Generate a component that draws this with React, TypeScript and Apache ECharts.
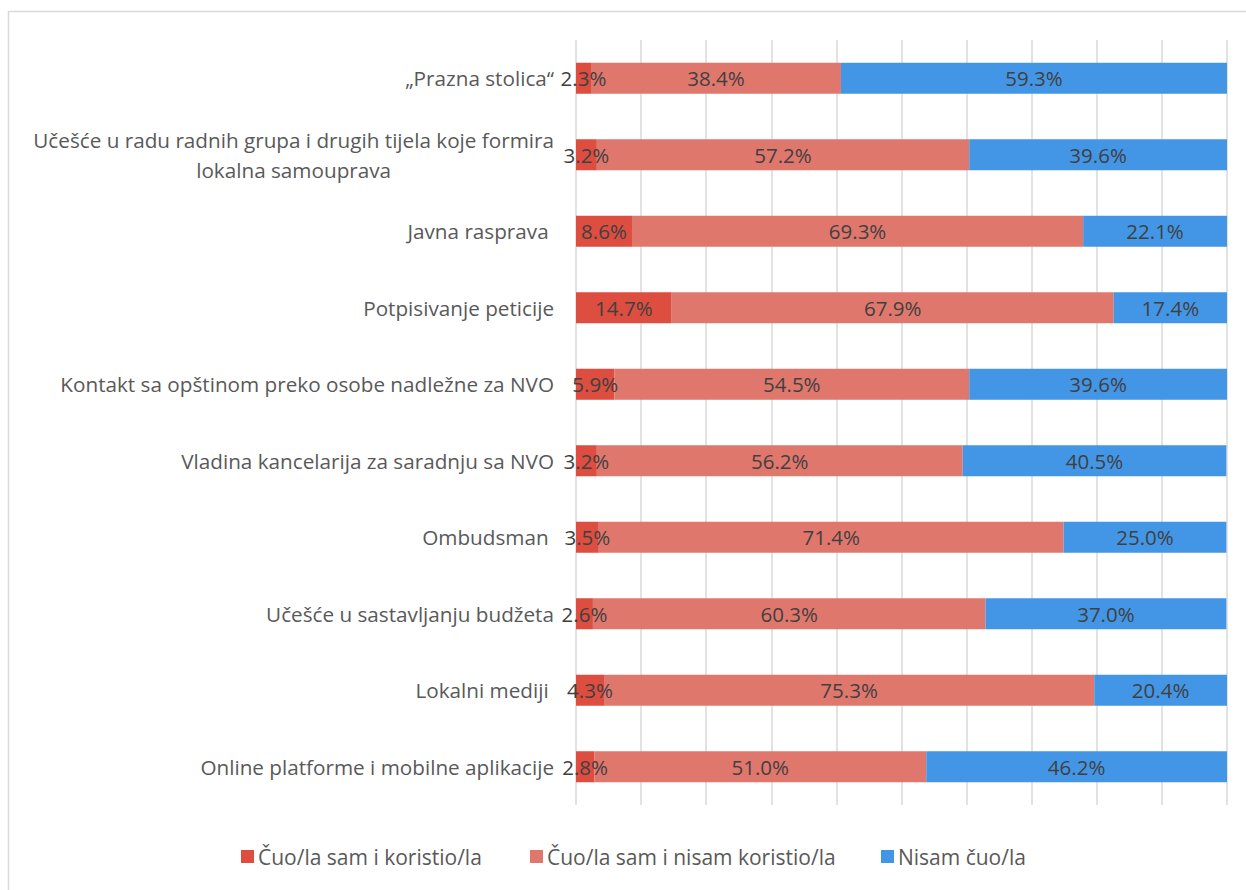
import React, { useEffect, useRef } from "react";
import * as echarts from "echarts";

const categories = [
  "„Prazna stolica“",
  "Učešće u radu radnih grupa i drugih tijela koje formira\nlokalna samouprava",
  "Javna rasprava ",
  "Potpisivanje peticije",
  "Kontakt sa opštinom preko osobe nadležne za NVO",
  "Vladina kancelarija za saradnju sa NVO",
  "Ombudsman ",
  "Učešće u sastavljanju budžeta",
  "Lokalni mediji ",
  "Online platforme i mobilne aplikacije",
];

const seriesNames = [
  "Čuo/la sam i koristio/la",
  "Čuo/la sam i nisam koristio/la",
  "Nisam čuo/la",
];

const usedValues = [2.3, 3.2, 8.6, 14.7, 5.9, 3.2, 3.5, 2.6, 4.3, 2.8];
const notUsedValues = [38.4, 57.2, 69.3, 67.9, 54.5, 56.2, 71.4, 60.3, 75.3, 51.0];
const notHeardValues = [59.3, 39.6, 22.1, 17.4, 39.6, 40.5, 25.0, 37.0, 20.4, 46.2];

const colors = ["#DD4D40", "#E0776D", "#4396E6"];
const FONT = "Open Sans";

export default function App() {
  const ref = useRef<HTMLDivElement>(null);
  useEffect(() => {
    if (!ref.current) return;
    const chart = echarts.init(ref.current, null, { renderer: "svg" });
    const allValues = [usedValues, notUsedValues, notHeardValues];
    const legendLefts = [241, 530, 881];
    chart.setOption({
      animation: false,
      backgroundColor: "#ffffff",
      color: colors,
      textStyle: { fontFamily: FONT },
      graphic: [
        {
          type: "rect",
          shape: { x: 8.5, y: 11.5, width: 1400, height: 1000 },
          style: { fill: "none", stroke: "#d9d9d9", lineWidth: 1.5 },
          silent: true,
        },
      ],
      grid: { left: 576, top: 40, width: 651, height: 765, containLabel: false },
      legend: seriesNames.map((n, i) => ({
        data: [n],
        left: legendLefts[i],
        top: 846,
        padding: 0,
        itemWidth: 13,
        itemHeight: 13,
        itemGap: 0,
        icon: "rect",
        textStyle: { color: "#595959", fontSize: 21, fontFamily: FONT, padding: [0, 0, 0, -1] },
        selectedMode: false,
      })),
      xAxis: {
        type: "value",
        min: 0,
        max: 100,
        interval: 10,
        axisLabel: { show: false },
        axisLine: { show: false },
        axisTick: { show: false },
        splitLine: { show: true, lineStyle: { color: "#d9d9d9", width: 1.5 } },
      },
      yAxis: {
        type: "category",
        inverse: true,
        data: categories,
        axisLine: { show: false },
        axisTick: { show: false },
        axisLabel: {
          color: "#595959",
          fontSize: 20.7,
          fontFamily: FONT,
          margin: 22,
          formatter: (v: string) =>
            v.includes("\n")
              ? v
                  .split("\n")
                  .map((s) => `{c|${s}}`)
                  .join("\n")
              : v,
          rich: {
            c: { align: "center", color: "#595959", fontSize: 20.7, fontFamily: FONT, lineHeight: 30 },
          },
        },
      },
      series: seriesNames.map((n, i) => ({
        name: n,
        type: "bar",
        stack: "total",
        barWidth: 31,
        data: allValues[i],
        itemStyle: { color: colors[i] },
        label: {
          show: true,
          position: "inside",
          color: "#404040",
          fontSize: 20.5,
          fontFamily: FONT,
          formatter: (p: any) => `${Number(p.value).toFixed(1)}%`,
        },
      })),
    });
    return () => chart.dispose();
  }, []);
  return (
    <div
      ref={ref}
      style={{ position: "fixed", left: 0, top: 0, width: 1246, height: 890 }}
    />
  );
}
